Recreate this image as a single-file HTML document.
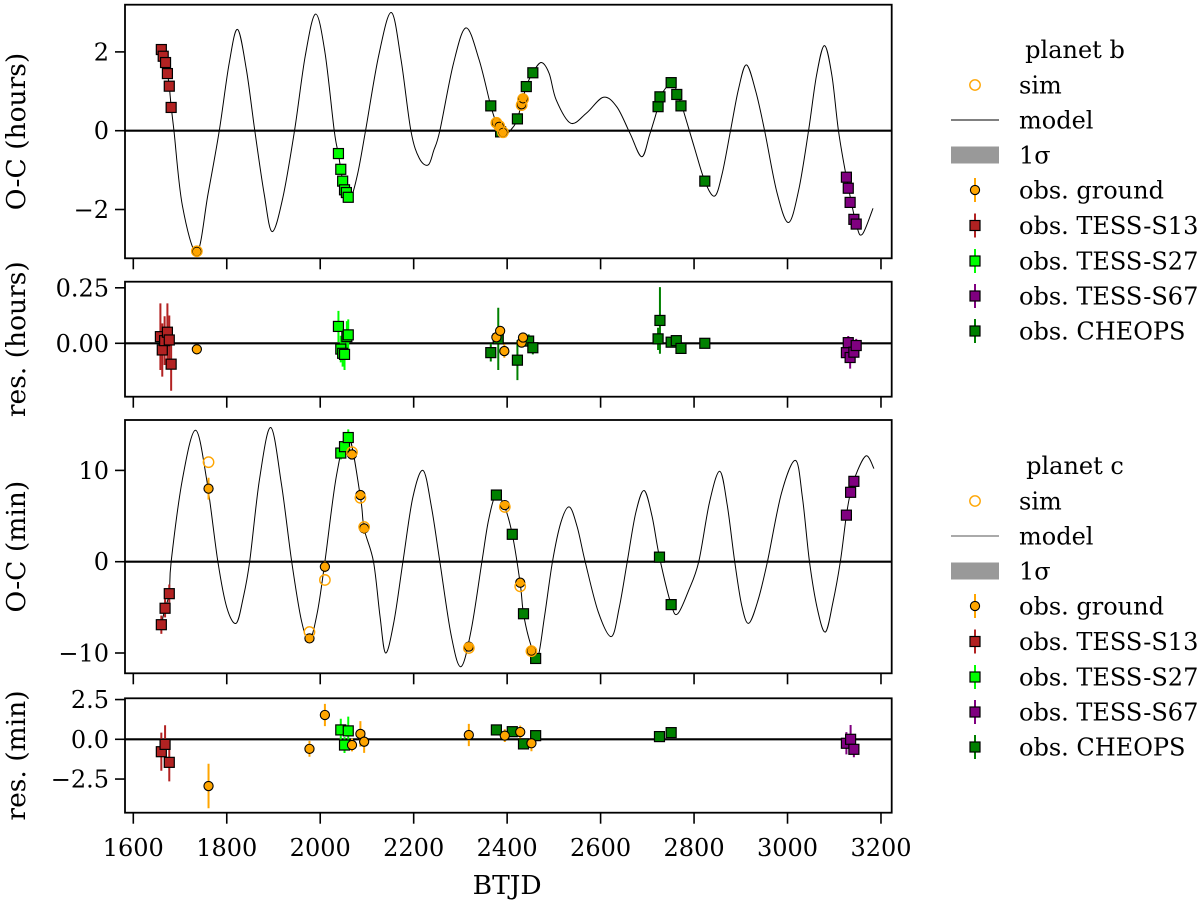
<!DOCTYPE html>
<html><head><meta charset="utf-8">
<style>
html,body{margin:0;padding:0;background:#fff;}
svg{display:block;font-family:"DejaVu Serif","Liberation Serif",serif;}
</style></head>
<body>
<svg id="chart" width="1200" height="904" viewBox="0 0 1200 904" xmlns="http://www.w3.org/2000/svg">
<g id="root"></g>
</svg>
<script>
// ---------- DATA ----------
const xTicks = [1600,1800,2000,2200,2400,2600,2800,3000,3200];
const p1Ticks = [2,0,-2];
const p2Ticks = [0.25,0.00];
const p2TickLabels = ["0.25","0.00"];
const p3Ticks = [10,0,-10];
const p4Ticks = [2.5,0,-2.5];
const p4TickLabels = ["2.5","0.0","\u22122.5"];

// planet b model
const modelBx = [1657,1660,1664,1669,1673,1677,1681,1687,1705,1736,1760,1784,1805,1823,1842,1860,1880,1897,1920,1945,1968,1990,2010,2030,2039,2048,2056,2064,2080,2097,2125,2152,2173,2194,2212,2231,2243,2256,2285,2312,2340,2365,2377,2391,2397,2410,2422,2441,2455,2473,2490,2505,2536,2570,2606,2635,2663,2688,2705,2723,2727,2753,2765,2774,2800,2823,2844,2860,2878,2895,2912,2932,2951,2977,3002,3024,3045,3062,3079,3095,3109,3126,3147,3160,3183];
const modelBy = [2.08,2.0,1.86,1.72,1.46,1.12,0.62,0.0,-1.9,-3.09,-1.6,0.0,1.7,2.57,1.55,0.0,-1.6,-2.56,-1.7,0.0,1.9,2.96,2.0,0.0,-0.6,-1.26,-1.6,-1.76,-1.1,0.0,1.9,3.0,1.8,0.0,-0.7,-0.87,-0.5,0.0,1.7,2.61,1.8,0.63,0.2,-0.07,-0.1,0.05,0.3,1.12,1.47,1.73,1.45,0.78,0.19,0.45,0.85,0.6,-0.07,-0.66,-0.1,0.61,0.86,1.24,0.9,0.63,-0.4,-1.28,-1.66,-1.1,0.0,1.05,1.67,1.0,0.0,-1.55,-2.33,-1.5,0.0,1.4,2.16,1.4,0.0,-1.18,-2.37,-2.63,-1.97];

// planet c model
const modelCx = [1660,1668,1677,1681,1705,1733,1757,1781,1800,1820,1835,1849,1870,1894,1917,1939,1960,1977,1994,2010,2035,2060,2086,2094,2114,2128,2140,2158,2177,2198,2220,2238,2256,2280,2301,2323,2346,2360,2376,2394,2411,2428,2435,2450,2465,2480,2497,2515,2533,2550,2567,2595,2623,2640,2657,2675,2693,2710,2726,2751,2765,2788,2810,2833,2855,2871,2887,2902,2917,2937,2957,2987,3017,3032,3047,3064,3081,3097,3113,3126,3135,3150,3169,3185];
const modelCy = [-6.9,-5.1,-3.5,0.0,9.0,14.4,9.0,0.0,-5.0,-6.75,-4.0,0.0,9.0,14.7,8.5,0.0,-6.5,-8.6,-5.5,0.0,9.5,13.9,7.1,3.6,0.0,-6.0,-10.0,-6.5,0.0,7.0,10.0,6.0,0.0,-8.0,-11.5,-7.5,0.0,4.5,7.3,6.1,3.0,-2.4,-5.7,-9.0,-10.6,-6.0,0.0,4.3,6.0,3.8,0.0,-5.5,-8.2,-5.0,0.0,5.3,7.8,5.0,0.5,-4.7,-5.7,-3.2,0.0,6.5,9.9,6.2,0.0,-4.8,-6.75,-4.2,0.0,7.5,11.1,7.0,0.0,-5.2,-7.7,-4.5,0.0,5.1,7.6,10.0,11.6,10.2];

// planet b observations (O-C hours)
const bS13x = [1660,1664,1669,1673,1677,1681];
const bS13y = [2.06,1.89,1.73,1.45,1.13,0.59];
const bGroundx = [1736,2377,2383,2391,2431,2434];
const bGroundy = [-3.07,0.21,0.10,-0.05,0.67,0.82];
const bSimx = [1736,2377,2383,2391,2431,2434];
const bSimy = [-3.06,0.20,0.12,-0.04,0.65,0.80];
const bS27x = [2039,2044,2048,2052,2056,2060];
const bS27y = [-0.58,-0.98,-1.28,-1.50,-1.57,-1.69];
const bS67x = [3126,3130,3134,3142,3147];
const bS67y = [-1.18,-1.46,-1.82,-2.25,-2.37];
const bCHx = [2365,2386,2422,2441,2455,2723,2727,2751,2763,2772,2823];
const bCHy = [0.63,-0.03,0.30,1.12,1.47,0.61,0.86,1.22,0.92,0.63,-1.28];

// planet b residuals (hours)
const rbS13x = [1658,1662,1667,1673,1677,1681];
const rbS13y = [0.030,-0.030,0.012,0.050,0.015,-0.094];
const rbS13e = [0.15,0.12,0.11,0.13,0.11,0.12];
const rbGroundx = [1736,2377,2385,2394,2431,2434];
const rbGroundy = [-0.027,0.027,0.056,-0.035,0.003,0.026];
const rbGrounde = [0.01,0.02,0.02,0.03,0.02,0.02];
const rbS27x = [2039,2044,2048,2052,2057,2060];
const rbS27y = [0.076,-0.026,-0.045,-0.050,0.030,0.038];
const rbS27e = [0.07,0.06,0.06,0.07,0.07,0.07];
const rbS67x = [3126,3130,3134,3142,3147];
const rbS67y = [-0.042,0.003,-0.064,-0.040,-0.010];
const rbS67e = [0.03,0.03,0.05,0.03,0.03];
const rbCHx = [2365,2381,2422,2446,2455,2723,2727,2751,2762,2772,2823];
const rbCHy = [-0.042,0.020,-0.076,0.010,-0.020,0.020,0.103,0.005,0.012,-0.023,0.000];
const rbCHe = [0.04,0.14,0.09,0.03,0.03,0.05,0.15,0.02,0.02,0.02,0.01];

// planet c observations (O-C min)
const cS13x = [1660,1668,1677];
const cS13y = [-6.9,-5.1,-3.5];
const cS13e = [1.0,1.0,1.0];
const cGroundx = [1761,1977,2010,2068,2086,2094,2318,2395,2428,2452];
const cGroundy = [8.0,-8.4,-0.55,11.75,7.3,3.65,-9.3,6.2,-2.3,-9.75];
const cGrounde = [1.2,0.4,0.6,0.4,0.5,0.6,0.5,0.4,0.4,0.4];
const cSimx = [1761,1977,2010,2068,2086,2094,2318,2395,2428,2452];
const cSimy = [10.9,-7.7,-2.0,12.0,7.0,3.8,-9.45,6.0,-2.7,-9.8];
const cS27x = [2044,2052,2060];
const cS27y = [11.9,12.6,13.6];
const cS27e = [0.7,0.7,0.9];
const cS67x = [3126,3135,3142];
const cS67y = [5.1,7.6,8.8];
const cS67e = [0.6,0.6,0.5];
const cCHx = [2377,2411,2435,2461,2726,2751];
const cCHy = [7.3,3.0,-5.7,-10.6,0.5,-4.7];
const cCHe = [0.2,0.2,0.2,0.2,0.2,0.2];

// planet c residuals (min)
const rcS13x = [1660,1668,1677];
const rcS13y = [-0.78,-0.32,-1.45];
const rcS13e = [1.2,1.2,1.2];
const rcGroundx = [1761,1977,2010,2068,2086,2094,2318,2395,2428,2452];
const rcGroundy = [-2.94,-0.6,1.53,-0.36,0.34,-0.15,0.27,0.23,0.46,-0.25];
const rcGrounde = [1.4,0.5,0.7,0.4,0.8,0.7,0.7,0.4,0.4,0.5];
const rcS27x = [2044,2052,2060];
const rcS27y = [0.59,-0.36,0.53];
const rcS27e = [0.7,0.5,0.9];
const rcS67x = [3126,3135,3142];
const rcS67y = [-0.25,0.0,-0.63];
const rcS67e = [0.7,0.9,0.5];
const rcCHx = [2377,2411,2435,2461,2726,2751];
const rcCHy = [0.59,0.48,-0.29,0.23,0.17,0.42];
const rcCHe = [0.2,0.3,0.2,0.2,0.2,0.2];

// ---------- RENDER ----------
const NS = "http://www.w3.org/2000/svg";
const root = document.getElementById('root');
const COL = {ground:"#ffa500", s13:"#b22222", s27:"#00ff00", s67:"#800080", ch:"#008000"};
const FL = 125, FR = 891.7;
function xs(d){ return 133.3 + (d-1600)*0.4673; }
const panels = [
  {name:"oc-b", top:4.7, bot:258.3, zero:130.7, k:39.4},
  {name:"res-b", top:281.7, bot:396.7, zero:343.3, k:222},
  {name:"oc-c", top:420, bot:673.3, zero:561.7, k:9.13},
  {name:"res-c", top:698.3, bot:812.7, zero:739.3, k:15.9}
];
function mk(tag, attrs, parent){
  const e = document.createElementNS(NS, tag);
  for (const k in attrs) e.setAttribute(k, attrs[k]);
  (parent||root).appendChild(e);
  return e;
}
function ys(p, v){ return p.zero - v*p.k; }

function splinePath(p, X, Y){
  const pts = X.map((x,i)=>[xs(x), ys(p,Y[i])]);
  let d = "M"+pts[0][0].toFixed(2)+","+pts[0][1].toFixed(2);
  for (let i=0;i<pts.length-1;i++){
    const p0 = pts[Math.max(0,i-1)], p1 = pts[i], p2 = pts[i+1], p3 = pts[Math.min(pts.length-1,i+2)];
    const c1x = p1[0]+(p2[0]-p0[0])/6, c1y = p1[1]+(p2[1]-p0[1])/6;
    const c2x = p2[0]-(p3[0]-p1[0])/6, c2y = p2[1]-(p3[1]-p1[1])/6;
    d += " C"+c1x.toFixed(2)+","+c1y.toFixed(2)+" "+c2x.toFixed(2)+","+c2y.toFixed(2)+" "+p2[0].toFixed(2)+","+p2[1].toFixed(2);
  }
  return d;
}

function drawPanel(p, ticks, labels, ylabel){
  const g = mk('g', {});
  
  
  const clip = mk('clipPath', {id:'clip-'+p.name}, g);
  mk('rect', {x:FL, y:p.top, width:FR-FL, height:p.bot-p.top}, clip);
  const plot = mk('g', {'clip-path':'url(#clip-'+p.name+')'}, g);
  
  
  p.g = plot;
  xTicks.forEach(t=>{
    const tk = mk('line', {x1:xs(t), x2:xs(t), y1:p.bot, y2:p.bot+11, stroke:'#000', 'stroke-width':1.6}, g);
    
    
  });
  ticks.forEach((t,i)=>{
    const y = ys(p,t);
    const tk = mk('line', {x1:FL-10, x2:FL, y1:y, y2:y, stroke:'#000', 'stroke-width':1.6}, g);
    
    
    const tx = mk('text', {x:FL-16, y:y+8.5, 'text-anchor':'end', 'font-size':24, fill:'#000'}, g);
    tx.textContent = labels ? labels[i] : String(t).replace('-', '\u2212');
    
    
  });
  const cy = (p.top+p.bot)/2;
  const yl = mk('text', {x:0, y:0, transform:'translate(25,'+cy+') rotate(-90)', 'text-anchor':'middle', 'font-size':26.5, fill:'#000'}, g);
  yl.textContent = ylabel;
  
  
  p.frameG = g;
}

function finishPanel(p){
  const z = mk('line', {x1:FL, x2:FR, y1:p.zero, y2:p.zero, stroke:'#000', 'stroke-width':2.2}, p.g);
  
  
}
function frame(p){
  const f = mk('rect', {x:FL, y:p.top, width:FR-FL, height:p.bot-p.top, fill:'none', stroke:'#000', 'stroke-width':1.8}, p.frameG);
  
  
}

function model(p, X, Y){
  const path = mk('path', {d:splinePath(p,X,Y), fill:'none', stroke:'#000', 'stroke-width':1}, p.g);
  
  
}
function errs(p, X, Y, E, col, nm){
  X.forEach((x,i)=>{
    const l = mk('line', {x1:xs(x), x2:xs(x), y1:ys(p,Y[i]-E[i]), y2:ys(p,Y[i]+E[i]), stroke:col, 'stroke-width':2}, p.g);
    
    
  });
}
function squares(p, X, Y, col, nm){
  X.forEach((x,i)=>{
    const s = mk('rect', {x:xs(x)-5, y:ys(p,Y[i])-5, width:10, height:10, fill:col, stroke:'#000', 'stroke-width':1.2}, p.g);
    
    
  });
}
function dots(p, X, Y, nm){
  X.forEach((x,i)=>{
    const c = mk('circle', {cx:xs(x), cy:ys(p,Y[i]), r:4.6, fill:COL.ground, stroke:'#000', 'stroke-width':1.1}, p.g);
    
    
  });
}
function sims(p, X, Y){
  X.forEach((x,i)=>{
    const c = mk('circle', {cx:xs(x), cy:ys(p,Y[i]), r:5.2, fill:'none', stroke:COL.ground, 'stroke-width':1.4}, p.g);
    
    
  });
}

const [P1,P2,P3,P4] = panels;
drawPanel(P1, p1Ticks, null, "O-C (hours)");
drawPanel(P2, p2Ticks, p2TickLabels, "res. (hours)");
drawPanel(P3, p3Ticks, null, "O-C (min)");
drawPanel(P4, p4Ticks, p4TickLabels, "res. (min)");

finishPanel(P1);
model(P1, modelBx, modelBy);
squares(P1, bS13x, bS13y, COL.s13, 's13');
squares(P1, bS27x, bS27y, COL.s27, 's27');
squares(P1, bCHx, bCHy, COL.ch, 'cheops');
squares(P1, bS67x, bS67y, COL.s67, 's67');
dots(P1, bGroundx, bGroundy, 'ground');
sims(P1, bSimx, bSimy);
frame(P1);

finishPanel(P2);
errs(P2, rbS13x, rbS13y, rbS13e, COL.s13, 's13');
errs(P2, rbS27x, rbS27y, rbS27e, COL.s27, 's27');
errs(P2, rbCHx, rbCHy, rbCHe, COL.ch, 'cheops');
errs(P2, rbS67x, rbS67y, rbS67e, COL.s67, 's67');
errs(P2, rbGroundx, rbGroundy, rbGrounde, COL.ground, 'ground');
squares(P2, rbS13x, rbS13y, COL.s13, 's13');
squares(P2, rbS27x, rbS27y, COL.s27, 's27');
squares(P2, rbCHx, rbCHy, COL.ch, 'cheops');
squares(P2, rbS67x, rbS67y, COL.s67, 's67');
dots(P2, rbGroundx, rbGroundy, 'ground');
frame(P2);

finishPanel(P3);
model(P3, modelCx, modelCy);
errs(P3, cS13x, cS13y, cS13e, COL.s13, 's13');
errs(P3, cS27x, cS27y, cS27e, COL.s27, 's27');
errs(P3, cS67x, cS67y, cS67e, COL.s67, 's67');
errs(P3, cGroundx, cGroundy, cGrounde, COL.ground, 'ground');
squares(P3, cS13x, cS13y, COL.s13, 's13');
squares(P3, cS27x, cS27y, COL.s27, 's27');
squares(P3, cCHx, cCHy, COL.ch, 'cheops');
squares(P3, cS67x, cS67y, COL.s67, 's67');
dots(P3, cGroundx, cGroundy, 'ground');
sims(P3, cSimx, cSimy);
frame(P3);

finishPanel(P4);
errs(P4, rcS13x, rcS13y, rcS13e, COL.s13, 's13');
errs(P4, rcS27x, rcS27y, rcS27e, COL.s27, 's27');
errs(P4, rcCHx, rcCHy, rcCHe, COL.ch, 'cheops');
errs(P4, rcS67x, rcS67y, rcS67e, COL.s67, 's67');
errs(P4, rcGroundx, rcGroundy, rcGrounde, COL.ground, 'ground');
squares(P4, rcS13x, rcS13y, COL.s13, 's13');
squares(P4, rcS27x, rcS27y, COL.s27, 's27');
squares(P4, rcCHx, rcCHy, COL.ch, 'cheops');
squares(P4, rcS67x, rcS67y, COL.s67, 's67');
dots(P4, rcGroundx, rcGroundy, 'ground');
frame(P4);

xTicks.forEach(t=>{
  const tx = mk('text', {x:xs(t), y:856, 'text-anchor':'middle', 'font-size':24, fill:'#000'});
  tx.textContent = String(t);
  
  
});
const xt = mk('text', {x:xs(2400), y:894, 'text-anchor':'middle', 'font-size':26.5, fill:'#000'});
xt.textContent = "BTJD";



const legendLabels = ["sim","model","1\u03c3","obs. ground","obs. TESS-S13","obs. TESS-S27","obs. TESS-S67","obs. CHEOPS"];
const legendTitles = ["planet b","planet c"];
const legendOffsets = [0, 416];
legendOffsets.forEach((off, li)=>{
  const lg = mk('g', {});
  
  
  const tt = mk('text', {x:1075, y:58+off, 'text-anchor':'middle', 'font-size':24, fill:'#000'}, lg);
  tt.textContent = legendTitles[li];
  
  
  const rows = [85,120,155,190,225.5,261,296,331];
  const cols = [null,null,null,COL.ground,COL.s13,COL.s27,COL.s67,COL.ch];
  rows.forEach((ry, i)=>{
    const y = ry+off;
    const e = mk('g', {}, lg);
    
    
    if(i===0){
      mk('circle', {cx:975, cy:y, r:5.2, fill:'none', stroke:COL.ground, 'stroke-width':1.4}, e);
    } else if(i===1){
      mk('line', {x1:951, x2:999, y1:y, y2:y, stroke:li?'#555':'#000', 'stroke-width':1}, e);
    } else if(i===2){
      mk('rect', {x:951, y:y-8.5, width:48, height:17, fill:'#999'}, e);
    } else {
      mk('line', {x1:975, x2:975, y1:y-12, y2:y+12, stroke:cols[i], 'stroke-width':2}, e);
      if(i===3) mk('circle', {cx:975, cy:y, r:4.6, fill:cols[i], stroke:'#000', 'stroke-width':1.1}, e);
      else mk('rect', {x:970, y:y-5, width:10, height:10, fill:cols[i], stroke:'#000', 'stroke-width':1.2}, e);
    }
    const t = mk('text', {x:1019, y:y+8.5, 'font-size':24, fill:'#000'}, e);
    t.textContent = legendLabels[i];
  });
});
</script>
</body></html>
